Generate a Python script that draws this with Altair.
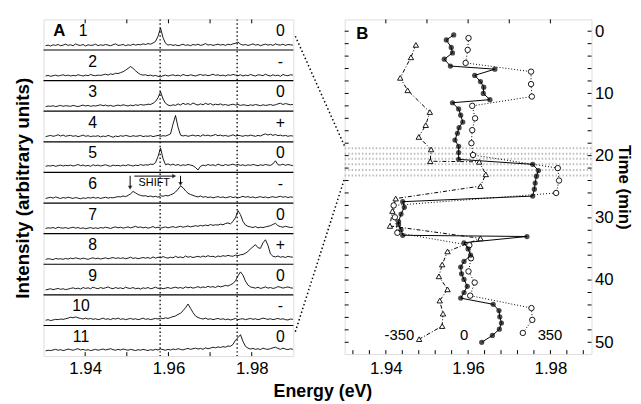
import altair as alt
import pandas as pd

FONT = "Liberation Sans"

# ---------------- Panel A: stacked spectra (intensity, arbitrary units; 0-100 per row)
E0 = 1.9305
STEP = 0.0006
spec1 = [14,16,13,17,15,18,14,16,19,15, 17,14,20,16,15,18,13,17,15,16, 19,14,17,15,18,16,14,17,20,15,
         16,18,14,17,15,19,16,18,17,20, 18,21,19,23,28,45,72,40,22,16, 18,15,17,14,16,19,15,17,14,18,
         16,19,15,17,21,16,18,15,17,19, 16,18,15,19,17,20,22,26,19,16, 18,15,17,20,16,18,14,17,19,16,
         18,15,20,17,16,19,15,18,17,16]
spec2 = [15,17,14,16,18,15,17,19,16,18, 15,17,16,19,17,15,18,16,20,17, 16,18,17,19,21,18,22,20,24,23,
         26,29,34,40,46,40,32,25,20,18, 19,16,18,15,17,14,12,16,18,15, 17,19,16,18,15,20,17,16,19,17,
         15,18,20,17,19,16,18,21,17,19, 16,18,15,19,17,20,18,16,19,15, 18,16,20,17,15,19,18,16,21,17,
         15,19,16,18,14,20,17,16,19,18]
spec3 = [15,17,16,18,15,17,19,16,18,17, 16,19,17,15,18,20,17,19,16,18, 17,19,21,18,20,17,19,16,18,20,
         18,21,19,17,20,18,21,19,22,20, 21,23,22,26,32,44,64,40,26,20, 18,21,19,24,20,26,22,25,21,27,
         23,20,24,21,26,22,25,20,23,21, 24,20,22,19,21,23,20,22,19,21, 20,18,21,19,22,20,18,21,19,20,
         22,19,21,24,26,22,25,23,21,22]
spec4 = [17,19,21,18,20,23,19,22,18,20, 21,18,20,17,19,22,18,20,17,19, 18,20,16,19,17,21,18,15,19,17,
         20,18,21,19,17,20,18,19,21,17, 19,18,20,17,19,21,18,20,19,22, 26,58,86,48,22,19,21,18,20,22,
         19,21,18,23,20,22,19,21,24,20, 22,19,21,18,20,23,19,21,20,18, 21,19,22,20,18,21,19,23,26,22,
         25,21,24,20,22,19,21,18,20,19]
spec5 = [20,22,21,23,20,22,24,21,23,22, 24,21,23,26,22,24,21,23,20,25, 22,24,21,23,25,22,20,24,22,23,
         21,24,22,25,23,21,24,22,26,23, 25,24,27,26,32,52,80,45,25,28, 24,27,23,26,22,25,23,26,24,22,
         16,8,20,24,22,26,23,25,22,27, 24,22,26,23,25,27,24,26,23,25, 22,25,23,26,24,22,25,23,26,24,
         23,28,38,25,24,27,23,26,24,22]
spec6 = [15,17,19,16,20,17,15,18,16,19, 17,15,18,16,14,17,15,18,16,19, 16,18,15,17,19,16,18,17,19,21,
         20,23,21,25,30,38,33,28,25,23, 24,21,23,20,22,19,24,22,25,23, 27,30,36,45,56,50,40,32,28,25,
         22,20,23,19,21,18,20,17,19,21, 18,20,17,19,21,18,20,17,19,22, 19,21,18,20,17,19,21,18,20,17,
         19,21,18,20,22,19,21,18,20,19]
spec7 = [17,19,18,20,17,21,19,18,20,17, 19,21,18,20,17,19,16,18,20,17, 19,17,20,18,21,19,17,20,22,19,
         21,18,20,22,19,21,24,20,22,19, 21,18,20,23,19,21,18,20,22,19, 21,23,20,22,24,21,23,25,22,24,
         26,24,27,25,28,26,30,27,29,28, 31,29,33,35,32,40,52,75,62,40, 28,24,22,20,23,19,21,20,22,24,
         26,30,34,26,23,21,24,22,20,21]
spec8 = [16,18,17,15,19,17,18,16,19,17, 20,18,21,19,17,20,18,16,19,21, 18,20,17,19,21,18,20,22,19,21,
         19,21,18,20,23,19,21,18,20,22, 20,22,19,24,20,23,21,25,22,20, 23,21,26,22,24,21,27,23,25,22,
         24,26,23,27,24,28,25,26,23,27, 25,28,26,29,27,26,30,28,31,32, 36,42,50,57,64,54,52,70,80,62,
         34,26,24,27,23,25,22,26,24,23]
spec9 = [16,18,20,17,19,21,18,20,17,19, 21,23,20,22,19,24,21,23,20,25, 22,20,24,21,23,26,22,20,24,21,
         23,20,25,22,21,24,20,22,19,23, 21,24,20,22,25,21,23,20,22,24, 21,23,25,22,24,21,26,23,25,22,
         24,27,23,26,24,28,25,27,24,29, 26,28,31,29,33,37,46,62,75,64, 45,32,26,24,22,25,21,23,26,22,
         24,21,23,27,25,22,24,26,23,22]
spec10 = [17,19,16,18,20,19,21,20,22,24, 27,25,28,25,23,21,24,21,23,20, 22,19,21,24,20,22,19,23,21,24,
          20,22,19,21,23,20,22,19,21,24, 20,22,19,21,23,21,24,22,25,23, 26,29,31,36,40,48,58,70,56,42,
          31,26,23,21,24,20,22,19,21,23, 20,22,19,21,18,20,23,19,21,22, 19,21,23,20,22,19,21,24,22,20,
          22,19,21,23,20,22,19,18,21,20]
spec11 = [17,19,18,20,22,19,21,18,20,23, 21,19,22,24,20,22,19,21,18,20, 22,19,21,23,20,22,24,21,19,22,
          20,23,21,19,22,20,18,21,19,22, 20,18,21,19,22,20,23,21,19,22, 20,23,21,24,22,20,23,25,22,24,
          26,23,25,22,27,24,26,29,27,30, 28,31,29,33,32,38,52,60,70,48, 32,26,23,25,22,24,21,26,23,22,
          24,27,29,25,22,26,23,21,24,22]
spectra = [spec1, spec2, spec3, spec4, spec5, spec6, spec7, spec8, spec9, spec10, spec11]
row_names = ["1", "2", "3", "4", "5", "6", "7", "8", "9", "10", "11"]
row_signs = ["0", "-", "0", "+", "0", "-", "0", "+", "0", "-", "0"]
ref_lines_A = [1.958, 1.9765]
axis_ticks = [1.94, 1.96, 1.98]

# ---------------- Panel B: peak energy vs time
t_zero = [0.6, 1.4, 2.6, 3.5, 4.5, 5.6, 6.1, 7.1, 8.1, 9.0, 10.0, 11.0, 11.5, 12.5, 13.5, 14.6, 15.5,
          16.4, 17.5, 18.5, 19.5, 20.6, 21.4, 22.4, 23.3, 24.4, 25.4, 26.5, 27.4, 28.3, 29.4, 30.6,
          31.1, 31.9, 32.8, 33.0, 34.0, 35.0, 36.0, 37.0, 37.9, 39.0, 39.9, 41.0, 42.0, 42.9, 43.9,
          44.9, 45.9, 46.9, 47.9, 48.9, 50.0]
e_zero = [1.9565, 1.9547, 1.9559, 1.9562, 1.9542, 1.9557, 1.9665, 1.9616, 1.9630, 1.9638, 1.9637,
          1.9653, 1.9562, 1.9577, 1.9582, 1.9587, 1.9578, 1.9574, 1.9568, 1.9577, 1.9577, 1.9577,
          1.9757, 1.9771, 1.9766, 1.9763, 1.9761, 1.9757, 1.9441, 1.9445, 1.9437, 1.9431, 1.9431,
          1.9437, 1.9441, 1.9743, 1.9590, 1.9600, 1.9606, 1.9590, 1.9582, 1.9584, 1.9590, 1.9598,
          1.9590, 1.9582, 1.9661, 1.9675, 1.9677, 1.9681, 1.9676, 1.9659, 1.9633]
t_pos = [1.1, 3.0, 5.1, 6.5, 8.5, 10.5, 12.0, 14.0, 15.9, 18.0, 19.9, 22.0, 24.0, 26.0, 28.0, 29.9,
         32.4, 34.4, 36.5, 38.6, 40.4, 42.5, 44.5, 46.4, 48.5]
e_pos = [1.9601, 1.9599, 1.9594, 1.9753, 1.9753, 1.9755, 1.9610, 1.9617, 1.9610, 1.9608, 1.9612,
         1.9818, 1.9821, 1.9814, 1.9419, 1.9422, 1.9428, 1.9603, 1.9607, 1.9601, 1.9616, 1.9605,
         1.9754, 1.9756, 1.9733]
t_neg = [2.2, 4.2, 7.5, 9.5, 13.0, 15.1, 17.0, 19.0, 20.9, 21.0, 23.0, 24.9, 26.9, 28.9, 31.3, 33.3,
         35.4, 37.5, 39.4, 41.5, 43.3, 45.4, 47.4, 49.5]
e_neg = [1.9473, 1.9461, 1.9435, 1.9453, 1.9507, 1.9497, 1.9480, 1.9510, 1.9508, 1.9627, 1.9643,
         1.9630, 1.9424, 1.9416, 1.9410, 1.9630, 1.9550, 1.9537, 1.9529, 1.9550, 1.9531, 1.9539,
         1.9537, 1.9481]
band_rows = [18.8, 19.7, 20.5, 21.4, 22.3, 23.2]
time_ticks = [0, 10, 20, 30, 40, 50]

# ---------------- build tables
rows = []
for r, vals in enumerate(spectra):
    for k, v in enumerate(vals):
        rows.append({"row": r + 1, "k": k, "E": E0 + k * STEP, "y": (10 - r) * 100 + v})
df_spec = pd.DataFrame(rows)

lab_E = [1.9395] + [1.9418] * 8 + [1.939, 1.939]
df_lab = pd.DataFrame({"E": lab_E, "y": [(10 - r) * 100 + 62 for r in range(11)], "txt": row_names})
df_sign = pd.DataFrame({"E": [1.9869] * 11, "y": [(10 - r) * 100 + 62 for r in range(11)], "txt": row_signs})
df_sep = pd.DataFrame({"y": [r * 100 for r in range(1, 11)]})
df_ref = pd.DataFrame({"E": ref_lines_A})

WA, HA = 253, 341
WB, HB = 250, 339

xA = alt.X("E:Q", scale=alt.Scale(domain=[1.93, 1.99], nice=False, zero=False),
           axis=alt.Axis(values=axis_ticks, format=".2f", ticks=False, domain=False, grid=False,
                         labelFontSize=17, labelFont=FONT, labelColor="black", labelPadding=5, title=None))
yA = alt.Y("y:Q", scale=alt.Scale(domain=[0, 1100], nice=False, zero=False),
           axis=alt.Axis(labels=False, ticks=False, domain=False, grid=False,
                         title="Intensity (arbitrary units)", titleFontSize=19, titleFont=FONT,
                         titleFontWeight="bold", titleColor="black", titlePadding=11))

spec_line = alt.Chart(df_spec).mark_line(color="black", strokeWidth=0.9, clip=True).encode(
    x=xA, y=yA, detail="row:N", order="k:Q")
sep = alt.Chart(df_sep).mark_rule(color="black", strokeWidth=1.2).encode(y=yA)
refl = alt.Chart(df_ref).mark_rule(color="black", strokeWidth=1.3, strokeDash=[1.5, 2.5]).encode(x=xA)
labs = alt.Chart(df_lab).mark_text(fontSize=16, font=FONT, color="black").encode(x=xA, y=yA, text="txt:N")
signs = alt.Chart(df_sign).mark_text(fontSize=16, font=FONT, color="black").encode(x=xA, y=yA, text="txt:N")
panelA_lab = alt.Chart(pd.DataFrame({"E": [1.9338], "y": [1062], "txt": ["A"]})).mark_text(
    fontSize=17, font=FONT, fontWeight="bold", color="black").encode(x=xA, y=yA, text="txt:N")

# SHIFT annotation in row 6
df_varrow = pd.DataFrame({"E": [1.9508, 1.9508, 1.9629, 1.9629], "y": [589, 550, 589, 562], "g": ["a", "a", "b", "b"]})
df_vhead = pd.DataFrame({"E": [1.9508, 1.9629], "y": [550, 562]})
df_harrow = pd.DataFrame({"E": [1.9518, 1.9614], "y": [588, 588]})
df_hhead = pd.DataFrame({"E": [1.9614], "y": [588]})
v_ar = alt.Chart(df_varrow).mark_line(color="black", strokeWidth=1).encode(x=xA, y=yA, detail="g:N")
v_hd = alt.Chart(df_vhead).mark_point(shape="triangle-down", size=22, filled=True, color="black").encode(x=xA, y=yA)
h_ar = alt.Chart(df_harrow).mark_line(color="black", strokeWidth=1).encode(x=xA, y=yA)
h_hd = alt.Chart(df_hhead).mark_point(shape="triangle-right", size=22, filled=True, color="black").encode(x=xA, y=yA)
shift_txt = alt.Chart(pd.DataFrame({"E": [1.9566], "y": [566], "txt": ["SHIFT"]})).mark_text(
    fontSize=11, font=FONT, color="black").encode(x=xA, y=yA, text="txt:N")

df_tickA = pd.DataFrame({"E": [1.94, 1.95, 1.96, 1.97, 1.98]})
topA = alt.Chart(df_tickA).mark_rule(color="black").encode(x=xA, y=alt.value(0), y2=alt.value(4))
botA = alt.Chart(df_tickA).mark_rule(color="black").encode(x=xA, y=alt.value(HA - 4), y2=alt.value(HA))

panelA = alt.layer(refl, sep, spec_line, labs, signs, panelA_lab, v_ar, v_hd, h_ar, h_hd, shift_txt,
                   topA, botA).properties(width=WA, height=HA)

# ---------------- Panel B
xB = alt.X("E:Q", scale=alt.Scale(domain=[1.93, 1.99], nice=False, zero=False),
           axis=alt.Axis(values=axis_ticks, format=".2f", ticks=False, domain=False, grid=False,
                         labelFontSize=17, labelFont=FONT, labelColor="black", labelPadding=7, title=None))
yB = alt.Y("t:Q", scale=alt.Scale(domain=[-1.9, 51.9], nice=False, zero=False, reverse=True),
           axis=alt.Axis(orient="right", values=time_ticks, ticks=False, domain=False, grid=False,
                         labelFontSize=17, labelFont=FONT, labelColor="black", labelPadding=3,
                         title="Time (min)", titleFontSize=17, titleFont=FONT, titleFontWeight="bold",
                         titleColor="black", titlePadding=1))

df_zero = pd.DataFrame({"E": e_zero, "t": t_zero, "o": range(len(t_zero))})
df_pos = pd.DataFrame({"E": e_pos, "t": t_pos, "o": range(len(t_pos))})
df_neg = pd.DataFrame({"E": e_neg, "t": t_neg, "o": range(len(t_neg))})

band = alt.Chart(pd.DataFrame({"t": band_rows})).mark_rule(
    color="#bdbdbd", strokeWidth=2, strokeDash=[1.5, 2]).encode(y=yB, x=alt.value(0), x2=alt.value(WB))

df_conn = pd.DataFrame({"E": [1.918, 1.93, 1.918, 1.93], "t": [0.8, 18.5, 48.3, 23.6], "g": ["a", "a", "b", "b"]})
conn = alt.Chart(df_conn).mark_line(color="black", strokeWidth=1.5, strokeDash=[1.5, 2.5], clip=False).encode(
    x=xB, y=yB, detail="g:N")

l_zero = alt.Chart(df_zero).mark_line(color="black", strokeWidth=1).encode(x=xB, y=yB, order="o:Q")
p_zero = alt.Chart(df_zero).mark_point(shape="circle", size=28, filled=True, color="black").encode(x=xB, y=yB)
l_pos = alt.Chart(df_pos).mark_line(color="black", strokeWidth=1, strokeDash=[1, 2]).encode(x=xB, y=yB, order="o:Q")
p_pos = alt.Chart(df_pos).mark_point(shape="circle", size=30, filled=True, fill="white", stroke="black",
                                      strokeWidth=0.9, opacity=1).encode(x=xB, y=yB)
l_neg = alt.Chart(df_neg).mark_line(color="black", strokeWidth=1, strokeDash=[4, 2, 1, 2]).encode(x=xB, y=yB, order="o:Q")
p_neg = alt.Chart(df_neg).mark_point(shape="triangle-up", size=30, filled=True, fill="white", stroke="black",
                                      strokeWidth=0.9, opacity=1).encode(x=xB, y=yB)

df_slab = pd.DataFrame({"E": [1.9433, 1.959, 1.9799], "t": [48.9, 48.9, 48.9], "txt": ["-350", "0", "350"]})
slab = alt.Chart(df_slab).mark_text(fontSize=15, font=FONT, color="black").encode(x=xB, y=yB, text="txt:N")
panelB_lab = alt.Chart(pd.DataFrame({"E": [1.9343], "t": [0.5], "txt": ["B"]})).mark_text(
    fontSize=17, font=FONT, fontWeight="bold", color="black").encode(x=xB, y=yB, text="txt:N")

df_tt = pd.DataFrame({"t": list(range(0, 52, 2))})
leftB = alt.Chart(df_tt).mark_rule(color="black").encode(y=yB, x=alt.value(0), x2=alt.value(4))
rightB = alt.Chart(df_tt).mark_rule(color="black").encode(y=yB, x=alt.value(WB - 4), x2=alt.value(WB))
df_et = pd.DataFrame({"E": [round(1.932 + 0.004 * i, 3) for i in range(15)]})
botB = alt.Chart(df_et).mark_rule(color="black").encode(x=xB, y=alt.value(HB - 4), y2=alt.value(HB))
topB = alt.Chart(df_tickA).mark_rule(color="black").encode(x=xB, y=alt.value(0), y2=alt.value(4))

panelB = alt.layer(band, conn, l_neg, l_pos, l_zero, p_neg, p_pos, p_zero, slab, panelB_lab,
                   leftB, rightB, botB, topB).properties(width=WB, height=HB)

chart = alt.hconcat(panelA, panelB, spacing=52, bounds="flush").properties(
    title=alt.TitleParams(text="Energy (eV)", orient="bottom", anchor="middle", fontSize=18,
                          fontWeight="bold", font=FONT, color="black", offset=6),
    padding={"left": 5, "top": 7, "right": 0, "bottom": 0},
).configure_view(stroke="black", strokeWidth=1).configure(font=FONT)

chart.save("out.html", embed_options={"renderer": "svg", "actions": False})
